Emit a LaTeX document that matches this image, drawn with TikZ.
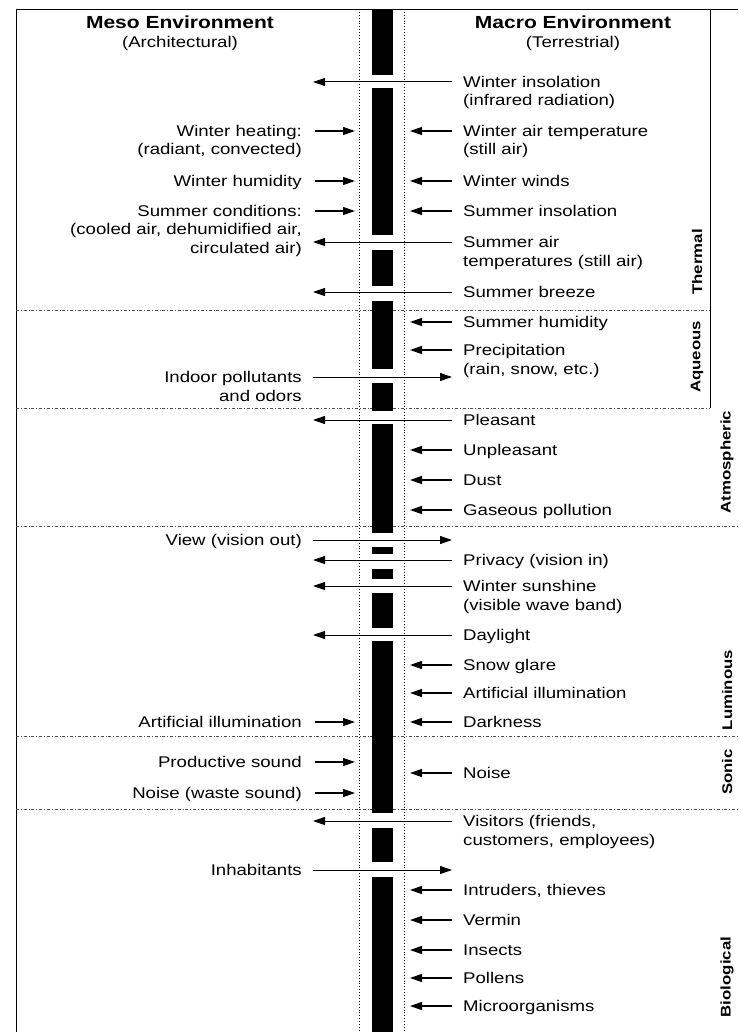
\documentclass[tikz,border=0pt]{standalone}
\usepackage{fontspec}
\setmainfont{Liberation Sans}[FakeStretch=1.2]
\usetikzlibrary{arrows.meta}

\begin{document}
\begin{tikzpicture}[x=1pt, y=-1pt,
        txt/.style={inner sep=0pt, font=\fontsize{15.5}{18.5}\selectfont},
        ttl/.style={inner sep=0pt, font=\fontsize{17.5}{20}\selectfont\bfseries},
        cat/.style={inner sep=0pt, rotate=90, font=\fontsize{14}{16}\selectfont\bfseries},
        arr/.style={line width=1.3pt, -{Triangle[length=12pt,width=8pt]}},
        longarr/.style={line width=1pt, -{Triangle[length=12pt,width=8pt]}},
        sep/.style={line width=0.7pt, dash dot, black!70},
        guide/.style={line width=0.9pt, dotted}]
        \useasboundingbox (0,0) rectangle (738,1032);

        % frame and guides
        \draw[line width=0.8pt] (16,1032) -- (16,9) -- (738,9);
        \draw[line width=0.8pt] (710,9) -- (710,408);
        \coordinate (gl) at (359,9);
        \coordinate (gr) at (404,9);
        \draw[guide] (gl) -- (gl |- 0,1032);
        \draw[guide] (gr) -- (gr |- 0,1032);

        \coordinate (oL) at (313,0);
        \coordinate (oR) at (452,0);
        \coordinate (iL) at (355,0);
        \coordinate (iR) at (410,0);

        % section boundaries
        \draw[sep] (16,310) -- (710,310);
        \draw[sep] (16,408) -- (710,408);
        \draw[sep] (16,526) -- (738,526);
        \draw[sep] (16,736) -- (738,736);
        \draw[sep] (16,809) -- (738,809);

        % the wall
        \fill (372,9) rectangle (393,75);
        \fill (372,88) rectangle (393,235);
        \fill (372,250) rectangle (393,286);
        \fill (372,301) rectangle (393,369);
        \fill (372,383) rectangle (393,411);
        \fill (372,424) rectangle (393,533);
        \fill (372,547) rectangle (393,554);
        \fill (372,569) rectangle (393,579);
        \fill (372,593) rectangle (393,628);
        \fill (372,641) rectangle (393,813);
        \fill (372,828) rectangle (393,862);
        \fill (372,877) rectangle (393,1032);

        \node[ttl] (meso) at (180,22) {Meso Environment};
        \node[txt] (arch) at (180,43) {(Architectural)};
        \node[ttl] (macro) at (573,22) {Macro Environment};
        \node[txt] (terr) at (573,43) {(Terrestrial)};

        % macro side (base = last line)
        \node[txt, anchor=base west, align=left] (wins) at (463,106) {Winter insolation\\(infrared radiation)};
        \node[txt, anchor=base west, align=left] (wair) at (463,155) {Winter air temperature\\(still air)};
        \node[txt, anchor=base west] (wwind) at (463,186.5) {Winter winds};
        \node[txt, anchor=base west] (sins) at (463,216.5) {Summer insolation};
        \node[txt, anchor=base west, align=left] (sair) at (463,266) {Summer air\\temperatures (still air)};
        \node[txt, anchor=base west] (sbrz) at (463,297.5) {Summer breeze};
        \node[txt, anchor=base west] (shum) at (463,327.5) {Summer humidity};
        \node[txt, anchor=base west, align=left] (prec) at (463,374) {Precipitation\\(rain, snow, etc.)};
        \node[txt, anchor=base west] (pls) at (463,425.5) {Pleasant};
        \node[txt, anchor=base west] (unpl) at (463,455.5) {Unpleasant};
        \node[txt, anchor=base west] (dust) at (463,485.5) {Dust};
        \node[txt, anchor=base west] (gas) at (463,515.5) {Gaseous pollution};
        \node[txt, anchor=base west] (priv) at (463,565.5) {Privacy (vision in)};
        \node[txt, anchor=base west, align=left] (wsun) at (463,610) {Winter sunshine\\(visible wave band)};
        \node[txt, anchor=base west] (dayl) at (463,640.5) {Daylight};
        \node[txt, anchor=base west] (snow) at (463,670.5) {Snow glare};
        \node[txt, anchor=base west] (aill) at (463,698.5) {Artificial illumination};
        \node[txt, anchor=base west] (dark) at (463,727.5) {Darkness};
        \node[txt, anchor=base west] (noise) at (463,778.5) {Noise};
        \node[txt, anchor=base west, align=left] (visit) at (463,845) {Visitors (friends,\\customers, employees)};
        \node[txt, anchor=base west] (intr) at (463,895.5) {Intruders, thieves};
        \node[txt, anchor=base west] (verm) at (463,925.5) {Vermin};
        \node[txt, anchor=base west] (insc) at (463,955.5) {Insects};
        \node[txt, anchor=base west] (poll) at (463,983.5) {Pollens};
        \node[txt, anchor=base west] (micro) at (463,1011.5) {Microorganisms};

        % meso side
        \node[txt, anchor=base east, align=right] (heat) at (302,155) {Winter heating:\\(radiant, convected)};
        \node[txt, anchor=base east] (hum) at (302,186.5) {Winter humidity};
        \node[txt, anchor=base east, align=right] (scond) at (302,253.5) {Summer conditions:\\(cooled air, dehumidified air,\\circulated air)};
        \node[txt, anchor=base east, align=right] (indoor) at (302,401) {Indoor pollutants\\and odors};
        \node[txt, anchor=base east] (view) at (302,545.5) {View (vision out)};
        \node[txt, anchor=base east] (illum) at (302,727.5) {Artificial illumination};
        \node[txt, anchor=base east] (prod) at (302,767.5) {Productive sound};
        \node[txt, anchor=base east] (wnoise) at (302,798.5) {Noise (waste sound)};
        \node[txt, anchor=base east] (inhab) at (302,875.5) {Inhabitants};

        % categories
        \node[cat] (therm) at (697,262) {Thermal};
        \node[cat] (aque) at (697,357) {Aqueous};
        \node[cat] (atmo) at (727,462) {Atmospheric};
        \node[cat] (lumi) at (727,690) {Luminous};
        \node[cat] (soni) at (727,772) {Sonic};
        \node[cat] (biol) at (727,977) {Biological};

        % through the wall
        \draw[longarr] ([shift={(-11pt,24pt)}]wins.base west) -- ([yshift=24pt]wins.base west -| oL);
        \draw[longarr] ([shift={(-11pt,24pt)}]sair.base west) -- ([yshift=24pt]sair.base west -| oL);
        \draw[longarr] ([shift={(-11pt,5.5pt)}]sbrz.base west) -- ([yshift=5.5pt]sbrz.base west -| oL);
        \draw[longarr] ([shift={(-11pt,5.5pt)}]pls.base west) -- ([yshift=5.5pt]pls.base west -| oL);
        \draw[longarr] ([shift={(-11pt,5.5pt)}]priv.base west) -- ([yshift=5.5pt]priv.base west -| oL);
        \draw[longarr] ([shift={(-11pt,24pt)}]wsun.base west) -- ([yshift=24pt]wsun.base west -| oL);
        \draw[longarr] ([shift={(-11pt,5.5pt)}]dayl.base west) -- ([yshift=5.5pt]dayl.base west -| oL);
        \draw[longarr] ([shift={(-11pt,24pt)}]visit.base west) -- ([yshift=24pt]visit.base west -| oL);
        \draw[longarr] ([shift={(11pt,24pt)}]indoor.base east) -- ([yshift=24pt]indoor.base east -| oR);
        \draw[longarr] ([shift={(11pt,5.5pt)}]view.base east) -- ([yshift=5.5pt]view.base east -| oR);
        \draw[longarr] ([shift={(11pt,5.5pt)}]inhab.base east) -- ([yshift=5.5pt]inhab.base east -| oR);

        % stopped at the wall
        \draw[arr] ([shift={(-11pt,24pt)}]wair.base west) -- ([yshift=24pt]wair.base west -| iR);
        \draw[arr] ([shift={(-11pt,5.5pt)}]wwind.base west) -- ([yshift=5.5pt]wwind.base west -| iR);
        \draw[arr] ([shift={(-11pt,5.5pt)}]sins.base west) -- ([yshift=5.5pt]sins.base west -| iR);
        \draw[arr] ([shift={(-11pt,5.5pt)}]shum.base west) -- ([yshift=5.5pt]shum.base west -| iR);
        \draw[arr] ([shift={(-11pt,24pt)}]prec.base west) -- ([yshift=24pt]prec.base west -| iR);
        \draw[arr] ([shift={(-11pt,5.5pt)}]unpl.base west) -- ([yshift=5.5pt]unpl.base west -| iR);
        \draw[arr] ([shift={(-11pt,5.5pt)}]dust.base west) -- ([yshift=5.5pt]dust.base west -| iR);
        \draw[arr] ([shift={(-11pt,5.5pt)}]gas.base west) -- ([yshift=5.5pt]gas.base west -| iR);
        \draw[arr] ([shift={(-11pt,5.5pt)}]snow.base west) -- ([yshift=5.5pt]snow.base west -| iR);
        \draw[arr] ([shift={(-11pt,5.5pt)}]aill.base west) -- ([yshift=5.5pt]aill.base west -| iR);
        \draw[arr] ([shift={(-11pt,5.5pt)}]dark.base west) -- ([yshift=5.5pt]dark.base west -| iR);
        \draw[arr] ([shift={(-11pt,5.5pt)}]noise.base west) -- ([yshift=5.5pt]noise.base west -| iR);
        \draw[arr] ([shift={(-11pt,5.5pt)}]intr.base west) -- ([yshift=5.5pt]intr.base west -| iR);
        \draw[arr] ([shift={(-11pt,5.5pt)}]verm.base west) -- ([yshift=5.5pt]verm.base west -| iR);
        \draw[arr] ([shift={(-11pt,5.5pt)}]insc.base west) -- ([yshift=5.5pt]insc.base west -| iR);
        \draw[arr] ([shift={(-11pt,5.5pt)}]poll.base west) -- ([yshift=5.5pt]poll.base west -| iR);
        \draw[arr] ([shift={(-11pt,5.5pt)}]micro.base west) -- ([yshift=5.5pt]micro.base west -| iR);
        \draw[arr] ([shift={(13pt,24pt)}]heat.base east) -- ([yshift=24pt]heat.base east -| iL);
        \draw[arr] ([shift={(13pt,5.5pt)}]hum.base east) -- ([yshift=5.5pt]hum.base east -| iL);
        \draw[arr] ([shift={(13pt,42.5pt)}]scond.base east) -- ([yshift=42.5pt]scond.base east -| iL);
        \draw[arr] ([shift={(13pt,5.5pt)}]illum.base east) -- ([yshift=5.5pt]illum.base east -| iL);
        \draw[arr] ([shift={(13pt,5.5pt)}]prod.base east) -- ([yshift=5.5pt]prod.base east -| iL);
        \draw[arr] ([shift={(13pt,5.5pt)}]wnoise.base east) -- ([yshift=5.5pt]wnoise.base east -| iL);
\end{tikzpicture}
\end{document}
